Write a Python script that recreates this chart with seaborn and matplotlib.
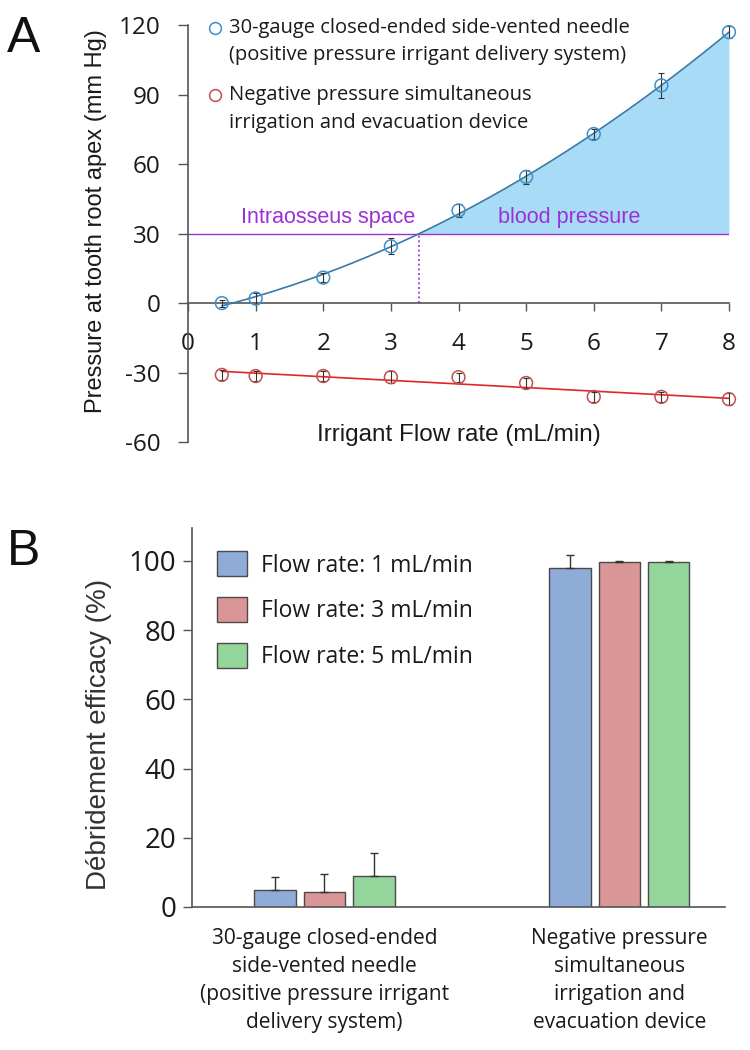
import numpy as np
import pandas as pd
import matplotlib
matplotlib.use("Agg")
import matplotlib.pyplot as plt
import seaborn as sns
from matplotlib.container import BarContainer
from matplotlib.lines import Line2D
from matplotlib.legend_handler import HandlerLine2D

sns.set_theme(style="white")
plt.rcParams['font.family'] = ['Open Sans', 'DejaVu Sans']
plt.rcParams['axes.unicode_minus'] = False

# ---------------- data: panel A ----------------
flow = [0.5, 1, 2, 3, 4, 5, 6, 7, 8]
needle_mean = [0, 2, 11, 24.5, 40, 54.5, 73, 94, 117]
needle_err = [1.5, 2.5, 2, 3.5, 3, 3, 2, 5.5, 2.5]
npsie_mean = [-31, -31.5, -31.5, -32, -32, -34.5, -40.5, -40.5, -41.5]
npsie_err = [2, 2, 2, 2.5, 2, 2, 2, 2, 2.5]
bp_level = 30
a_yticks = [-60, -30, 0, 30, 60, 90, 120]
a_xticks = [0, 1, 2, 3, 4, 5, 6, 7, 8]
needle_label = "30-gauge closed-ended side-vented needle\n(positive pressure irrigant delivery system)"
npsie_label = "Negative pressure simultaneous\nirrigation and evacuation device"

# ---------------- data: panel B ----------------
groups = ["30-gauge closed-ended\nside-vented needle\n(positive pressure irrigant\ndelivery system)",
          "Negative pressure\nsimultaneous\nirrigation and\nevacuation device"]
flow_levels = ["Flow rate: 1 mL/min", "Flow rate: 3 mL/min", "Flow rate: 5 mL/min"]
eff_needle = [4.8, 4.4, 8.9]
eff_needle_sd = [3.8, 5.1, 6.6]
eff_npsie = [97.8, 99.7, 99.8]
eff_npsie_sd = [3.8, 0.2, 0.1]
b_yticks = [0, 20, 40, 60, 80, 100]

blue_c = "#3f8fc8"
red_c = "#e0262b"
fill_c = "#a8dcf6"
purple = "#9b30d9"
bar_colors = ["#8fabd8", "#da9596", "#93d59b"]
txt_c = "#1a1a1a"


class FirstLineHandler(HandlerLine2D):
    """Legend marker aligned with the first line of a two-line label."""
    def create_artists(self, legend, orig_handle, xdescent, ydescent, width,
                       height, fontsize, trans):
        arts = super().create_artists(legend, orig_handle, xdescent, ydescent,
                                      width, height, fontsize, trans)
        for a in arts:
            if isinstance(a, Line2D):
                a.set_ydata(np.asarray(a.get_ydata(), dtype=float) + 0.7 * fontsize)
        return arts


fig = plt.figure(figsize=(7.5, 10.5), dpi=100)

# ================= Panel A =================
axA = fig.add_axes([0.2507, 0.579, 0.7213, 0.397])
dfA = pd.DataFrame({"flow": flow * 2,
                    "p": needle_mean + npsie_mean,
                    "dev": ["needle"] * len(flow) + ["npsie"] * len(flow)})
xs = np.linspace(min(flow), max(flow), 300)
cq = np.polyfit(flow, needle_mean, 2)
yq = np.polyval(cq, xs)
cl = np.polyfit(flow, npsie_mean, 1)
yl = np.polyval(cl, xs)
roots = np.roots([cq[0], cq[1], cq[2] - bp_level])
x_cross = float([r.real for r in roots if abs(r.imag) < 1e-9 and min(flow) < r.real < max(flow)][0])

mask = xs >= x_cross
axA.fill_between(xs[mask], bp_level, yq[mask], color=fill_c, lw=0, zorder=1)
axA.axhline(bp_level, xmin=0, xmax=1, color=purple, lw=1.0, zorder=2)
axA.plot([x_cross, x_cross], [0, bp_level], color=purple, lw=1.2, ls=(0, (1.2, 1.6)), zorder=2)
sns.lineplot(x=xs, y=yq, color="#3a78a6", lw=1.2, ax=axA, zorder=3)
sns.lineplot(x=xs, y=yl, color=red_c, lw=1.2, ax=axA, zorder=3)

axA.errorbar(flow, needle_mean, yerr=needle_err, fmt="none", ecolor="#333333",
             elinewidth=0.8, capsize=2.5, capthick=0.8, zorder=4, clip_on=False)
axA.errorbar(flow, npsie_mean, yerr=npsie_err, fmt="none", ecolor="#333333",
             elinewidth=0.8, capsize=2.5, capthick=0.8, zorder=4, clip_on=False)
sns.scatterplot(data=dfA, x="flow", y="p", hue="dev",
                palette={"needle": blue_c, "npsie": "#c0504d"},
                marker="o", s=85, linewidth=1.1, ax=axA,
                zorder=5, clip_on=False, legend=False)
coll = axA.collections[-1]
coll.set_edgecolors(coll.get_facecolors())
coll.set_facecolor("none")

axA.set_xlim(0, 8)
axA.set_ylim(-60, 120)
axA.set_yticks(a_yticks)
axA.set_xticks(a_xticks)
axA.spines["top"].set_visible(False)
axA.spines["right"].set_visible(False)
axA.spines["bottom"].set_position(("data", 0))
for s in ["left", "bottom"]:
    axA.spines[s].set_color("#555555")
    axA.spines[s].set_linewidth(1.2)
axA.tick_params(axis="y", direction="out", length=7, width=1.0, color="#555555",
                labelsize=17.5, labelcolor=txt_c, pad=13, left=True)
axA.tick_params(axis="x", direction="out", length=6, width=1.0, color="#555555",
                labelsize=17.5, labelcolor=txt_c, pad=15, bottom=True)
axA.set_xlabel("")
axA.set_ylabel("Pressure at tooth root apex (mm Hg)", fontsize=17,
               family="Liberation Sans", color=txt_c)
axA.yaxis.set_label_coords(-0.15, 0.53)
axA.text(4.0, -57, "Irrigant Flow rate (mL/min)", ha="center", va="center",
         fontsize=17.5, family="Liberation Sans", color=txt_c)
axA.text(2.07, 37, "Intraosseus space", ha="center", va="center", fontsize=15.5,
         family="Liberation Sans", color=purple)
axA.text(5.64, 37, "blood pressure", ha="center", va="center", fontsize=15.5,
         family="Liberation Sans", color=purple)

hA = [Line2D([], [], ls="none", marker="o", markersize=8.5, markerfacecolor="none",
             markeredgecolor=blue_c, markeredgewidth=1.1),
      Line2D([], [], ls="none", marker="o", markersize=8.5, markerfacecolor="none",
             markeredgecolor="#c0504d", markeredgewidth=1.1)]
legA = axA.legend(hA, [needle_label, npsie_label], loc="upper left",
                  bbox_to_anchor=(0.038, 1.018), frameon=False, fontsize=14.5,
                  handlelength=0.6, handletextpad=0.42, labelspacing=1.0,
                  borderaxespad=0, borderpad=0,
                  handler_map={Line2D: FirstLineHandler()})
for t in legA.get_texts():
    t.set_linespacing(1.5)
    t.set_color(txt_c)
axA.set_zorder(2)

fig.text(0.009, 0.9505, "A", fontsize=36, family="Liberation Sans", va="baseline",
         ha="left", color="#111111")

# ================= Panel B =================
axB = fig.add_axes([0.256, 0.1362, 0.7107, 0.361])
dfB = pd.DataFrame({"group": [groups[0]] * 3 + [groups[1]] * 3,
                    "flow": flow_levels * 2,
                    "eff": eff_needle + eff_npsie})
sns.barplot(data=dfB, x="group", y="eff", hue="flow", hue_order=flow_levels,
            palette=bar_colors, width=0.5, gap=0.15, errorbar=None,
            edgecolor="#4a4a4a", linewidth=1.0, saturation=1, ax=axB)
sds = [[eff_needle_sd[i], eff_npsie_sd[i]] for i in range(3)]
means = [[eff_needle[i], eff_npsie[i]] for i in range(3)]
bar_conts = [c for c in axB.containers if isinstance(c, BarContainer)]
for i, cont in enumerate(bar_conts):
    for j, bar in enumerate(cont.patches):
        xc = bar.get_x() + bar.get_width() / 2
        axB.errorbar([xc], [means[i][j]], yerr=[[0], [sds[i][j]]], fmt="none",
                     ecolor="#333333", elinewidth=1.0, capsize=3, capthick=1.0, zorder=3)

axB.set_xlim(-0.449, 1.358)
axB.set_ylim(0, 109.5)
axB.set_yticks(b_yticks)
axB.spines["top"].set_visible(False)
axB.spines["right"].set_visible(False)
for s in ["left", "bottom"]:
    axB.spines[s].set_color("#555555")
    axB.spines[s].set_linewidth(1.2)
axB.tick_params(axis="y", direction="out", length=6.5, width=1.0, color="#555555",
                labelsize=20, labelcolor=txt_c, pad=5, left=True)
axB.tick_params(axis="x", length=0, labelsize=15, labelcolor=txt_c, pad=15)
axB.set_xlabel("")
axB.set_ylabel("Débridement efficacy (%)", fontsize=20, family="Liberation Sans",
               color="#333333")
axB.yaxis.set_label_coords(-0.15, 0.454)
hB, lB = axB.get_legend_handles_labels()
legB = axB.legend(hB, lB, loc="upper left", bbox_to_anchor=(0.047, 0.938), frameon=False,
                  fontsize=16.5, handlelength=1.31, handleheight=1.3, handletextpad=0.6,
                  labelspacing=0.85, borderaxespad=0, borderpad=0)
for t in legB.get_texts():
    t.set_color(txt_c)
for t in axB.get_xticklabels():
    t.set_linespacing(1.45)

fig.text(0.009, 0.4619, "B", fontsize=36, family="Liberation Sans", va="baseline",
         ha="left", color="#111111")

fig.savefig("out.png", dpi=100)
